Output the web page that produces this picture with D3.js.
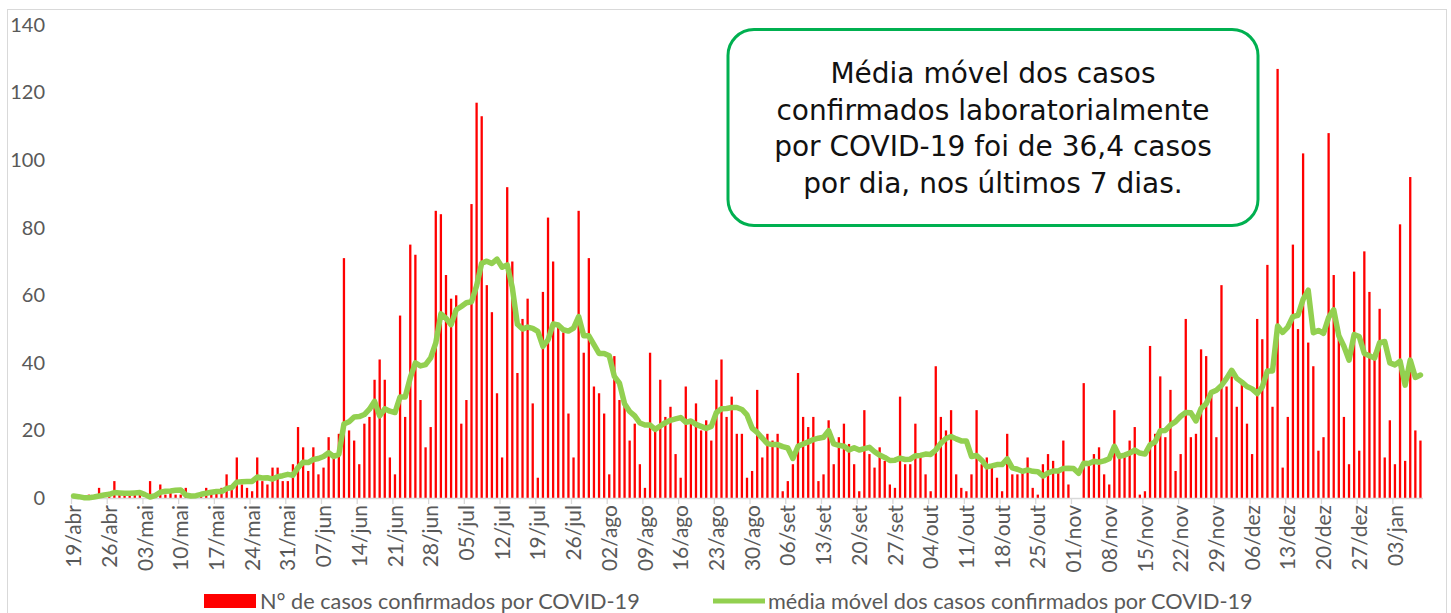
<!DOCTYPE html>
<html>
<head>
<meta charset="utf-8">
<script src="https://cdn.jsdelivr.net/npm/d3@7"></script>
<style>
  html, body { margin: 0; padding: 0; background: #fff; }
  svg { display: block; font-family: Lato, "Open Sans", sans-serif; }
</style>
</head>
<body>
<div id="chart"></div>
<script>
// daily data, 19/abr/2020 .. 08/jan/2021
const startDate = "2020-04-19";
const monthsPt = ["jan", "fev", "mar", "abr", "mai", "jun", "jul", "ago", "set", "out", "nov", "dez"];

const cases = [
  1, 0, 0, 1, 0, 3, 0,
  1, 5, 1, 1, 1, 1, 1,
  0, 5, 1, 4, 1, 2, 1,
  1, 3, 0, 1, 1, 3, 2,
  2, 3, 7, 3, 12, 4, 3,
  2, 12, 5, 4, 9, 9, 5,
  5, 10, 21, 15, 8, 15, 7,
  9, 18, 13, 19, 71, 20, 17,
  10, 22, 24, 35, 41, 35, 12,
  7, 54, 24, 75, 72, 29, 15,
  21, 85, 84, 66, 59, 60, 22,
  29, 87, 117, 113, 63, 55, 31,
  12, 92, 70, 37, 53, 59, 28,
  6, 61, 83, 70, 51, 49, 25,
  12, 85, 43, 71, 33, 31, 25,
  7, 42, 29, 28, 17, 22, 10,
  3, 43, 20, 35, 24, 27, 13,
  6, 33, 23, 28, 20, 23, 17,
  35, 41, 24, 30, 19, 19, 6,
  8, 32, 12, 19, 17, 19, 2,
  5, 10, 37, 24, 21, 24, 5,
  7, 23, 10, 18, 22, 16, 10,
  2, 26, 13, 9, 15, 11, 4,
  3, 30, 10, 10, 22, 12, 7,
  2, 39, 24, 20, 26, 7, 3,
  2, 7, 26, 10, 12, 9, 6,
  2, 19, 7, 7, 8, 12, 3,
  1, 10, 13, 11, 8, 17, 4,
  0, 0, 34, 10, 13, 15, 7,
  4, 26, 13, 13, 17, 21, 1,
  2, 45, 19, 36, 18, 32, 8,
  13, 53, 18, 19, 44, 42, 31,
  18, 63, 33, 36, 27, 34, 22,
  13, 53, 47, 69, 27, 127, 9,
  24, 75, 50, 102, 46, 39, 14,
  18, 108, 66, 48, 24, 10, 67,
  14, 73, 61, 43, 56, 12, 23,
  10, 81, 11, 95, 20, 17
];

const movingAvg = [
  0.6, 0.4, 0.1, 0.1, 0.3, 0.6, 0.9,
  1.1, 1.6, 1.5, 1.4, 1.4, 1.5, 1.6,
  1.0, 0.3, 0.7, 1.7, 2.0, 2.1, 2.3,
  2.4, 0.9, 0.6, 0.7, 1.1, 1.4, 1.7,
  1.9, 1.9, 2.8, 3.1, 4.7, 4.8, 4.9,
  4.9, 6.2, 5.9, 6.0, 5.6, 6.3, 6.6,
  7.0, 6.7, 9.0, 10.6, 10.5, 11.4, 11.7,
  12.3, 13.4, 12.3, 12.9, 21.9, 22.6, 24.0,
  24.1, 24.7, 26.3, 28.6, 24.3, 26.4, 25.7,
  25.3, 29.9, 29.9, 35.6, 40.0, 39.1, 39.5,
  41.5, 45.9, 54.5, 53.2, 51.3, 55.7, 56.7,
  57.8, 58.1, 62.8, 69.5, 70.1, 69.4, 70.7,
  68.3, 69.0, 62.3, 51.4, 50.0, 50.6, 50.2,
  49.3, 44.9, 46.8, 51.5, 51.2, 49.8, 49.4,
  50.3, 53.7, 48.0, 48.0, 45.4, 42.8, 42.8,
  42.1, 36.0, 34.0, 27.9, 25.6, 24.3, 22.2,
  21.6, 21.6, 20.3, 21.3, 22.3, 23.0, 23.4,
  23.8, 22.4, 22.8, 21.8, 21.2, 20.6, 21.2,
  25.3, 26.4, 26.5, 26.8, 26.8, 26.2, 24.6,
  20.7, 19.4, 17.7, 16.1, 15.8, 15.8, 15.2,
  14.8, 11.7, 15.3, 16.0, 16.6, 17.3, 17.7,
  18.0, 19.9, 16.0, 15.6, 15.3, 14.2, 14.9,
  14.2, 14.6, 15.0, 13.7, 12.7, 12.0, 11.1,
  11.2, 11.8, 11.4, 11.5, 12.5, 12.6, 13.0,
  12.9, 14.2, 16.2, 17.6, 18.2, 17.5, 16.9,
  16.9, 12.3, 12.6, 11.2, 9.2, 9.5, 9.9,
  9.9, 11.6, 8.9, 8.5, 7.9, 8.3, 7.9,
  7.8, 6.5, 7.4, 8.0, 8.0, 8.7, 8.8,
  8.7, 7.3, 10.3, 10.2, 10.9, 10.6, 11.0,
  11.6, 15.3, 12.3, 12.7, 13.3, 14.2, 13.3,
  13.0, 15.7, 16.6, 19.9, 20.0, 21.6, 22.6,
  24.2, 25.3, 25.2, 22.8, 26.5, 27.9, 31.2,
  31.9, 33.3, 35.4, 37.8, 35.4, 34.3, 33.0,
  32.3, 30.9, 32.9, 37.6, 37.6, 50.9, 49.0,
  50.6, 53.7, 54.1, 58.8, 61.5, 48.9, 49.6,
  48.7, 53.4, 55.7, 48.0, 44.9, 40.8, 48.4,
  47.8, 42.8, 42.1, 41.4, 46.0, 46.3, 40.0,
  39.4, 40.5, 33.4, 40.8, 35.7, 36.4
];

const tickLabels = [
  "19/abr", "26/abr", "03/mai", "10/mai", "17/mai", "24/mai", "31/mai",
  "07/jun", "14/jun", "21/jun", "28/jun", "05/jul", "12/jul", "19/jul",
  "26/jul", "02/ago", "09/ago", "16/ago", "23/ago", "30/ago", "06/set",
  "13/set", "20/set", "27/set", "04/out", "11/out", "18/out", "25/out",
  "01/nov", "08/nov", "15/nov", "22/nov", "29/nov", "06/dez", "13/dez",
  "20/dez", "27/dez", "03/jan"
];

const yTicks = [0, 20, 40, 60, 80, 100, 120, 140];

const noteLines = [
  "Média móvel dos casos",
  "confirmados laboratorialmente",
  "por COVID-19 foi de 36,4 casos",
  "por dia, nos últimos 7 dias."
];

const legendBars = "N° de casos confirmados por COVID-19";
const legendLine = "média móvel dos casos confirmados por COVID-19";

// categories (dd/mmm) built from the start date
const t0 = d3.timeParse("%Y-%m-%d")(startDate);
const categories = d3.range(cases.length).map(i => {
  const d = d3.timeDay.offset(t0, i);
  return `${d3.timeFormat("%d")(d)}/${monthsPt[d.getMonth()]}`;
});

const W = 1451, H = 613;
const svg = d3.select("#chart").append("svg").attr("width", W).attr("height", H);

// chart frame
svg.append("rect")
  .attr("x", 7.5).attr("y", 9.5)
  .attr("width", 1439).attr("height", 640)
  .attr("fill", "none").attr("stroke", "#d9d9d9");

const x = d3.scaleBand().domain(categories).range([71, 1423]).padding(0);
const y = d3.scaleLinear().domain([0, 140]).range([498, 25]);

// y axis labels
svg.append("g")
  .attr("transform", "translate(47,0)")
  .call(d3.axisLeft(y).tickValues(yTicks).tickSize(0).tickPadding(2))
  .call(g => g.select(".domain").remove())
  .selectAll("text")
  .attr("fill", "#595959")
  .style("font-size", "20px")
  .style("font-family", "Lato, sans-serif");

// bars
const bw = 2.3;
svg.append("g")
  .selectAll("rect")
  .data(cases)
  .join("rect")
  .attr("x", (d, i) => x(categories[i]) + x.bandwidth() / 2 - bw / 2)
  .attr("y", d => y(d))
  .attr("width", bw)
  .attr("height", d => y(0) - y(d))
  .attr("fill", "#FF0000");

// x axis line + ticks at category boundaries
svg.append("line")
  .attr("x1", 71).attr("x2", 1423)
  .attr("y1", 498.5).attr("y2", 498.5)
  .attr("stroke", "#d9d9d9").attr("stroke-width", 1.3);

svg.append("g")
  .selectAll("line")
  .data(tickLabels)
  .join("line")
  .attr("x1", d => x(d) + 0.5).attr("x2", d => x(d) + 0.5)
  .attr("y1", 498).attr("y2", 504)
  .attr("stroke", "#d9d9d9").attr("stroke-width", 1.3);

svg.append("g")
  .attr("transform", "translate(0,498)")
  .call(d3.axisBottom(x).tickValues(tickLabels).tickSize(0))
  .call(g => g.select(".domain").remove())
  .selectAll("text")
  .attr("transform", "rotate(-90)")
  .attr("text-anchor", "end")
  .attr("x", -7)
  .attr("y", 0)
  .attr("dy", "0.36em")
  .attr("fill", "#595959")
  .style("font-size", "21px")
  .style("font-family", "Lato, sans-serif");

// moving average line
const line = d3.line()
  .x((d, i) => x(categories[i]) + x.bandwidth() / 2)
  .y(d => y(d))
  .curve(d3.curveLinear);

svg.append("path")
  .datum(movingAvg)
  .attr("d", line)
  .attr("fill", "none")
  .attr("stroke", "#92D050")
  .attr("stroke-width", 5.5)
  .attr("stroke-linejoin", "round")
  .attr("stroke-linecap", "round");

// note box
const note = svg.append("g");
note.append("rect")
  .attr("x", 728).attr("y", 29.5)
  .attr("width", 530).attr("height", 196)
  .attr("rx", 26).attr("ry", 26)
  .attr("fill", "#fff")
  .attr("stroke", "#00B050")
  .attr("stroke-width", 3);

note.selectAll("text")
  .data(noteLines)
  .join("text")
  .attr("x", 993)
  .attr("y", (d, i) => 83 + i * 36.5)
  .attr("text-anchor", "middle")
  .attr("fill", "#111")
  .style("font-family", "'DejaVu Sans', sans-serif")
  .style("font-size", "28px")
  .text(d => d);

// legend
const leg = svg.append("g").style("font-family", "Lato, sans-serif").style("font-size", "21.7px");
leg.append("rect")
  .attr("x", 204).attr("y", 594)
  .attr("width", 52).attr("height", 14)
  .attr("fill", "#FF0000");
leg.append("text")
  .attr("x", 260).attr("y", 609)
  .attr("fill", "#595959")
  .text(legendBars);
leg.append("line")
  .attr("x1", 713).attr("x2", 765)
  .attr("y1", 601).attr("y2", 601)
  .attr("stroke", "#92D050").attr("stroke-width", 5);
leg.append("text")
  .attr("x", 768).attr("y", 609)
  .attr("fill", "#595959")
  .text(legendLine);
</script>
</body>
</html>
